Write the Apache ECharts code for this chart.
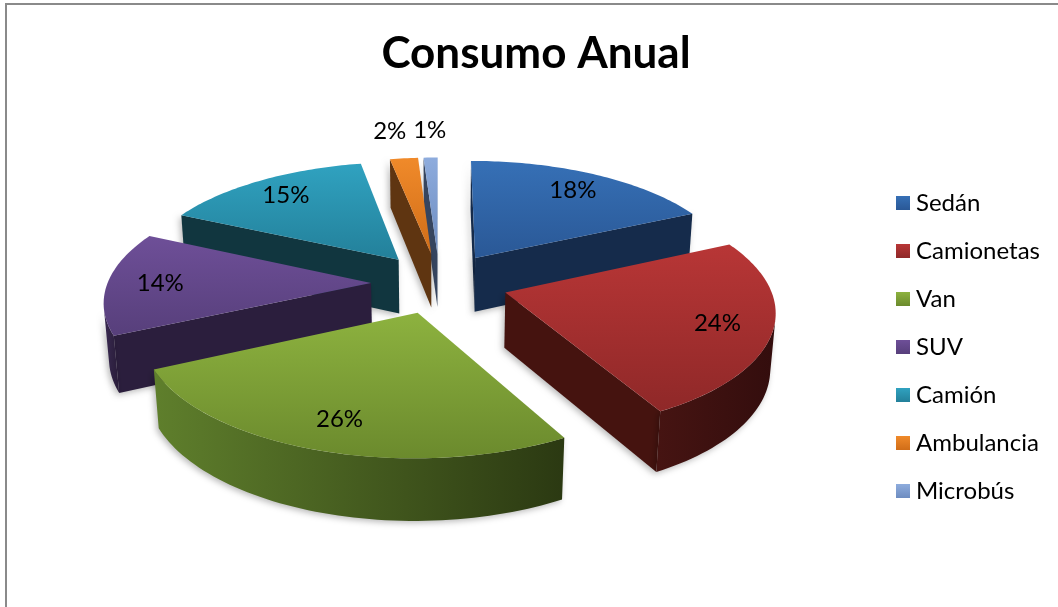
<!DOCTYPE html>
<html>
<head>
<meta charset="utf-8">
<script src="https://cdn.jsdelivr.net/npm/echarts@6/dist/echarts.min.js"></script>
<style>
  html, body { margin: 0; padding: 0; background: #ffffff; }
  #chart { width: 1058px; height: 607px; }
</style>
</head>
<body>
<div id="chart"></div>
<script>
// Chart data
const chartTitle = 'Consumo Anual';
const categories = ['Sedán', 'Camionetas', 'Van', 'SUV', 'Camión', 'Ambulancia', 'Microbús'];
const shares = [18, 24, 26, 14, 15, 2, 1];

// Per-slice shading: top face (light, dark), radial cut face, outer wall (left, right)
const topColors = [
  ['#3670b6', '#2a5896'], ['#b83636', '#8f2828'], ['#8db23f', '#6b8a2d'],
  ['#6e4f98', '#573f7b'], ['#30a2c0', '#23809a'], ['#f08a2a', '#d06d18'],
  ['#8eacdd', '#6d8cc0']
];
const cutColors = ['#152b4b', '#45130f', '#33441a', '#2b1e3d', '#11363f', '#5f3511', '#36455f'];
const wallColors = [
  ['#1a3558', '#10213a'], ['#461412', '#330d0d'], ['#5f7f2c', '#2b3912'],
  ['#3a2a52', '#281c38'], ['#174a57', '#0e2f37'], ['#7a4516', '#54300e'],
  ['#4a5d7c', '#303e55']
];

const FONT = 'Lato, "Open Sans", sans-serif';

// Perspective view of a unit-radius pie lying flat
const view = {
  cx: 439.5, cy: 283, focal: 1736, dist: 6.59,
  tilt: 26.3 * Math.PI / 180, explode: 0.26, thickness: 0.236
};
const sa = Math.sin(view.tilt), ca = Math.cos(view.tilt);
const camera = [0, -view.dist * ca, view.dist * sa]; // (x, z, h)

function project(x, z, h) {
  const yc = z * sa + h * ca;
  const zc = view.dist + z * ca - h * sa;
  return [view.cx + view.focal * x / zc, view.cy - view.focal * yc / zc];
}
function depthOf(x, z, h) { return view.dist + z * ca - h * sa; }
function facing(n, p) {
  return n[0] * (camera[0] - p[0]) + n[1] * (camera[1] - p[1]) + n[2] * (camera[2] - p[2]) > 0;
}

// Slice angles, clockwise from 12 o'clock
const total = shares.reduce((a, b) => a + b, 0);
const slices = [];
let acc = 0;
shares.forEach((v) => {
  const a0 = acc / total * Math.PI * 2;
  acc += v;
  const a1 = acc / total * Math.PI * 2;
  const mid = (a0 + a1) / 2;
  slices.push({
    a0, a1, mid,
    ox: view.explode * Math.sin(mid),
    oz: view.explode * Math.cos(mid)
  });
});

// Back-to-front drawing rank
const order = slices.map((s, i) => ({ i, d: depthOf(s.ox + 0.5 * Math.sin(s.mid), s.oz + 0.5 * Math.cos(s.mid), 0) }))
  .sort((a, b) => b.d - a.d);
const rank = [];
order.forEach((o, r) => { rank[o.i] = r; });

function grad(x2, y2, c0, c1) {
  return new echarts.graphic.LinearGradient(0, 0, x2, y2, [
    { offset: 0, color: c0 }, { offset: 1, color: c1 }
  ]);
}

function renderSlice(i) {
  const s = slices[i];
  const bottom = -view.thickness;
  const base = rank[i] * 10;
  const arcPt = (t, h) => project(s.ox + Math.sin(t), s.oz + Math.cos(t), h);
  const tipTop = project(s.ox, s.oz, 0);
  const tipBot = project(s.ox, s.oz, bottom);
  const children = [];
  const shadow = { shadowBlur: 6, shadowColor: 'rgba(0,0,0,0.28)', shadowOffsetX: -2, shadowOffsetY: 2 };

  // Radial cut faces
  [[s.a0, -1], [s.a1, 1]].forEach(([t, sign]) => {
    const n = [sign * Math.cos(t), -sign * Math.sin(t), 0];
    const p = [s.ox + 0.5 * Math.sin(t), s.oz + 0.5 * Math.cos(t), bottom / 2];
    if (facing(n, p)) {
      children.push({
        type: 'polygon', z2: base,
        shape: { points: [tipTop, arcPt(t, 0), arcPt(t, bottom), tipBot] },
        style: Object.assign({ fill: cutColors[i] }, shadow)
      });
    }
  });

  // Outer curved wall, only the runs that face the camera
  const steps = Math.max(2, Math.ceil((s.a1 - s.a0) / (Math.PI / 120)));
  const runs = [];
  let cur = null;
  for (let k = 0; k < steps; k++) {
    const t0 = s.a0 + (s.a1 - s.a0) * k / steps;
    const t1 = s.a0 + (s.a1 - s.a0) * (k + 1) / steps;
    const tm = (t0 + t1) / 2;
    const vis = facing([Math.sin(tm), Math.cos(tm), 0],
      [s.ox + Math.sin(tm), s.oz + Math.cos(tm), bottom / 2]);
    if (vis) {
      if (!cur) { cur = [t0, t1]; runs.push(cur); } else { cur[1] = t1; }
    } else cur = null;
  }
  runs.forEach(([ta, tb]) => {
    const n = Math.max(2, Math.ceil((tb - ta) / (Math.PI / 120)));
    const topArc = [], botArc = [];
    for (let k = 0; k <= n; k++) {
      const t = ta + (tb - ta) * k / n;
      topArc.push(arcPt(t, 0));
      botArc.push(arcPt(t, bottom));
    }
    children.push({
      type: 'polygon', z2: base + 1,
      shape: { points: topArc.concat(botArc.reverse()) },
      style: Object.assign({ fill: grad(1, 0, wallColors[i][0], wallColors[i][1]) }, shadow)
    });
  });

  // Top face
  const n = Math.max(2, Math.ceil((s.a1 - s.a0) / (Math.PI / 180)));
  const topPts = [tipTop];
  for (let k = 0; k <= n; k++) topPts.push(arcPt(s.a0 + (s.a1 - s.a0) * k / n, 0));
  children.push({
    type: 'polygon', z2: base + 2,
    shape: { points: topPts },
    style: { fill: grad(0, 1, topColors[i][0], topColors[i][1]) }
  });

  return { type: 'group', children };
}

// Percentage labels: on the top face, or just outside for thin slices
function labelPositions() {
  const out = slices.map((s, i) => {
    const pct = shares[i] / total;
    const outside = pct < 0.05;
    const r = outside ? 1.15 : 0.8;
    const p = project(s.ox + r * Math.sin(s.mid), s.oz + r * Math.cos(s.mid), 0);
    return { i, x: p[0], y: outside ? p[1] - 3 : p[1], outside, text: Math.round(pct * 100) + '%' };
  });
  const ext = out.filter(o => o.outside).sort((a, b) => b.x - a.x);
  for (let k = 1; k < ext.length; k++) {
    const minGap = 40;
    if (ext[k - 1].x - ext[k].x < minGap) ext[k].x = ext[k - 1].x - minGap;
  }
  return out;
}
const labels = labelPositions();

const series = categories.map((name, i) => ({
  type: 'custom',
  name,
  coordinateSystem: 'none',
  silent: true,
  data: [shares[i]],
  itemStyle: { color: grad(0, 1, topColors[i][0], topColors[i][1]) },
  renderItem: () => renderSlice(i)
}));

series.push({
  type: 'custom',
  name: 'labels',
  coordinateSystem: 'none',
  silent: true,
  data: shares,
  renderItem: (params) => {
    const l = labels[params.dataIndex];
    return {
      type: 'text', z2: 1000, x: l.x, y: l.y,
      style: {
        text: l.text, fill: '#000000', font: '24px ' + FONT,
        align: 'center', verticalAlign: l.outside ? 'bottom' : 'middle',
        textAlign: 'center', textVerticalAlign: l.outside ? 'bottom' : 'middle'
      }
    };
  }
});

const chart = echarts.init(document.getElementById('chart'), null, { renderer: 'canvas' });
chart.setOption({
  animation: false,
  backgroundColor: '#ffffff',
  title: {
    text: chartTitle,
    left: 531, top: 27, textAlign: 'center',
    textStyle: { fontFamily: FONT, fontWeight: 'bold', fontSize: 44, color: '#000000' }
  },
  legend: {
    data: categories,
    orient: 'vertical',
    left: 891, top: 186,
    itemWidth: 14, itemHeight: 14, itemGap: 24,
    icon: 'rect',
    selectedMode: false,
    textStyle: { fontFamily: FONT, fontSize: 24, color: '#000000', padding: [0, 0, 0, 1] }
  },
  graphic: [{
    type: 'rect', silent: true, z: 100,
    shape: { x: 6, y: 4, width: 1200, height: 800 },
    style: { fill: 'none', stroke: '#8a8a8a', lineWidth: 2 }
  }],
  series
});
</script>
</body>
</html>
